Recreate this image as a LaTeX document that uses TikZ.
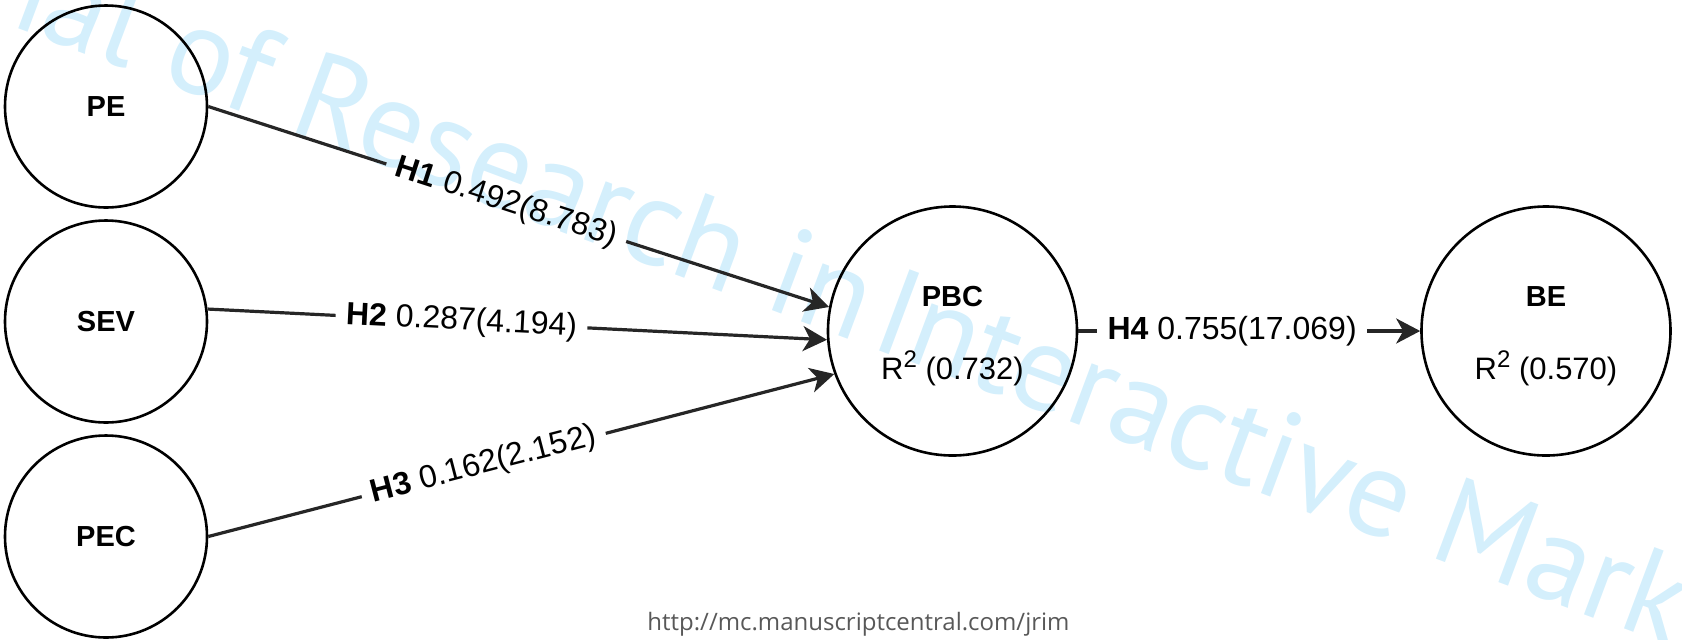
\documentclass[tikz,border=0pt]{standalone}
\usepackage{fontspec}
\setmainfont{Liberation Sans}
\newfontfamily\wmfont{PT Sans}
\newfontfamily\urlfont{Open Sans}
\usetikzlibrary{arrows.meta}
\definecolor{wmblue}{RGB}{212,239,252}
\definecolor{urlgray}{RGB}{88,88,88}
\newcommand{\rsq}[1]{{\fontsize{15.5}{18}\selectfont R\raisebox{6pt}{\fontsize{12}{13}\selectfont 2} (#1)}}

\begin{document}
\begin{tikzpicture}[x=0.5pt,y=-0.5pt]
    \tikzstyle{latent} = [draw,shape=circle,line width=1.3pt,inner sep=0pt,minimum size=101pt,font=\fontsize{14.5}{17}\selectfont\bfseries]
\tikzstyle{outcome} = [latent,minimum size=124.5pt,align=center,font=\fontsize{14.5}{17}\selectfont]
\tikzstyle{link} = [line width=1.6pt,color=black!85]
\tikzstyle{arr} = [-{Stealth[length=12pt,width=12.5pt,inset=3.5pt]}]

\tikzstyle{hyp} = [sloped,inner sep=5pt,font=\fontsize{16}{19}\selectfont]
\tikzstyle{wmark} = [anchor=base west,rotate=-20.5,inner sep=0pt,text=wmblue,font=\wmfont\fontsize{62}{66}\selectfont]

\pgfdeclarelayer{background}
\pgfsetlayers{background,main}

\useasboundingbox (0,0) rectangle (1682,639);

\node[latent] (PE) at (106,106.5) {PE};
\node[latent,below of=PE,node distance=107.5pt] (SEV) {SEV};
\node[latent,below of=SEV,node distance=107.5pt] (PEC) {PEC};
\node[outcome] (PBC) at (952.5,331) {\rule{0pt}{15pt}\textbf{PBC}\\[19.7pt]\rsq{0.732}};
\node[outcome,right of=PBC,node distance=296.75pt] (BE) {\rule{0pt}{15pt}\textbf{BE}\\[19.7pt]\rsq{0.570}};

\path (PE.east) -- (PBC.169) node[hyp,pos=.48] (h1) {\textbf{H1} 0.492(8.783)};
\path (SEV.7) -- (PBC.184) node[hyp,pos=.41] (h2) {\textbf{H2} 0.287(4.194)};
\path (PEC.east) -- (PBC.200) node[hyp,pos=.44] (h3) {\textbf{H3} 0.162(2.152)};
\path (PBC.east) -- (BE.west) node[hyp,pos=.45] (h4) {\textbf{H4} 0.755(17.069)};

\draw[link] (PE.east) -- (h1);
\draw[link,arr] (h1) -- (PBC.169);
\draw[link] (SEV.7) -- (h2);
\draw[link,arr] (h2) -- (PBC.184);
\draw[link] (PEC.east) -- (h3);
\draw[link,arr] (h3) -- (PBC.200);
\draw[link] (PBC.east) -- (h4);
\draw[link,arr] (h4) -- (BE.west);

\begin{pgfonlayer}{background}
\begin{scope}
\clip (0,0) rectangle (1682,639);
\node[wmark] (wm) at (867,346) {\llap{Journal of Research in\hspace{6pt}}Interactive Marketing};
\end{scope}
\end{pgfonlayer}

\node[text=urlgray,font=\urlfont\fontsize{12}{14}\selectfont,anchor=base] (url) at (858.5,630) {http://mc.manuscriptcentral.com/jrim};
\end{tikzpicture}
\end{document}
